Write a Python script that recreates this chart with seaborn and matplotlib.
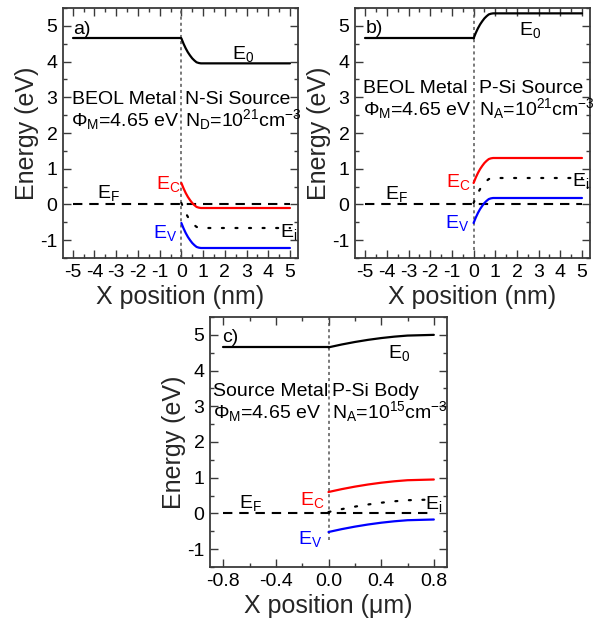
import matplotlib
matplotlib.use("Agg")
import matplotlib.pyplot as plt
from matplotlib.ticker import MultipleLocator
import seaborn as sns

# ---- band-diagram values (eV) ----
phi_m = 4.65                      # metal work function / vacuum level on metal side
x_metal_nm = [-5.0, 0.0]
x_metal_um = [-0.8, 0.0]
x_fermi_nm = [-5.0, 5.0]
x_fermi_um = [-0.8, 0.8]

# panels a) and b): heavily doped source, x in nm
x_sc_nm = [0.0, 0.1, 0.2, 0.3, 0.4, 0.5, 0.6, 0.7, 0.8, 0.9, 5.0]

E0_a = [4.65, 4.50, 4.37, 4.26, 4.17, 4.09, 4.03, 3.98, 3.96, 3.95, 3.95]
Ec_a = [0.60, 0.45, 0.32, 0.21, 0.12, 0.04, -0.02, -0.07, -0.09, -0.10, -0.10]
Ev_a = [-0.52, -0.67, -0.80, -0.91, -1.00, -1.08, -1.14, -1.19, -1.21, -1.22, -1.22]
Ei_a = [0.04, -0.11, -0.24, -0.35, -0.44, -0.52, -0.58, -0.63, -0.65, -0.66, -0.66]

E0_b = [4.65, 4.80, 4.93, 5.04, 5.13, 5.21, 5.27, 5.32, 5.34, 5.35, 5.35]
Ec_b = [0.60, 0.75, 0.88, 0.99, 1.08, 1.16, 1.22, 1.27, 1.29, 1.30, 1.30]
Ev_b = [-0.52, -0.37, -0.24, -0.13, -0.04, 0.04, 0.10, 0.15, 0.17, 0.18, 0.18]
Ei_b = [0.04, 0.19, 0.32, 0.43, 0.52, 0.60, 0.66, 0.71, 0.73, 0.74, 0.74]

# panel c): lightly doped body, x in um
x_sc_um = [0.0, 0.1, 0.2, 0.3, 0.4, 0.5, 0.6, 0.7, 0.8]
E0_c = [4.65, 4.73, 4.80, 4.86, 4.91, 4.95, 4.98, 4.99, 5.00]
Ec_c = [0.60, 0.68, 0.75, 0.81, 0.86, 0.90, 0.93, 0.94, 0.95]
Ev_c = [-0.52, -0.44, -0.37, -0.31, -0.26, -0.22, -0.19, -0.18, -0.17]
Ei_c = [0.04, 0.12, 0.19, 0.25, 0.30, 0.34, 0.37, 0.38, 0.39]

sns.set_theme(style="ticks")
plt.rcParams["font.family"] = ["Liberation Sans", "DejaVu Sans"]
plt.rcParams["mathtext.fontset"] = "custom"
plt.rcParams["mathtext.rm"] = "Liberation Sans"
plt.rcParams["mathtext.it"] = "Liberation Sans:italic"
plt.rcParams["axes.unicode_minus"] = False

SPINE = "#3a3a3a"
FS = 14

fig = plt.figure(figsize=(6.01, 6.26), dpi=100)
W, H = 601.0, 626.0
ax_a = fig.add_axes([63 / W, 1 - 258 / H, 235 / W, 250 / H])
ax_b = fig.add_axes([355 / W, 1 - 258 / H, 235 / W, 250 / H])
ax_c = fig.add_axes([210 / W, 1 - 567 / H, 237 / W, 250 / H])


def style_axes(ax, xlim, xmajor, xminor, xlabel):
    ax.set_xlim(*xlim)
    ax.set_ylim(-1.5, 5.5)
    ax.xaxis.set_major_locator(MultipleLocator(xmajor))
    ax.xaxis.set_minor_locator(MultipleLocator(xminor))
    ax.yaxis.set_major_locator(MultipleLocator(1))
    ax.yaxis.set_minor_locator(MultipleLocator(0.5))
    ax.tick_params(which="both", direction="in", top=True, right=True,
                   color=SPINE, width=1.0, labelsize=FS, labelcolor="black", pad=4)
    ax.tick_params(which="major", length=5.5)
    ax.tick_params(which="minor", length=3)
    for s in ax.spines.values():
        s.set_color(SPINE)
        s.set_linewidth(1.3)
    ax.set_xlabel(xlabel, fontsize=18, labelpad=3)
    ax.set_ylabel("Energy (eV)", fontsize=18, labelpad=1)


def draw_bands(ax, xm, xf, xs, e0, ec, ev, ei, vline_bottom):
    ax.vlines(0, vline_bottom, 5.5, colors="#555555", linewidth=1.1,
              linestyles=(0, (2.0, 2.0)), zorder=1)
    sns.lineplot(x=xf, y=[0.0, 0.0], ax=ax, color="black", linewidth=1.5,
                 linestyle=(0, (4.5, 3.3)), estimator=None, zorder=2)
    sns.lineplot(x=xm, y=[phi_m, phi_m], ax=ax, color="black", linewidth=1.6,
                 estimator=None, zorder=3)
    sns.lineplot(x=xs, y=e0, ax=ax, color="black", linewidth=1.6,
                 estimator=None, zorder=3)
    sns.lineplot(x=xs, y=ec, ax=ax, color="#ff0000", linewidth=1.6,
                 estimator=None, zorder=3)
    sns.lineplot(x=xs, y=ev, ax=ax, color="#0000ff", linewidth=1.6,
                 estimator=None, zorder=3)
    sns.lineplot(x=xs, y=ei, ax=ax, color="black", linewidth=1.6,
                 linestyle=(0, (0.9, 5.2)), dash_capstyle="round",
                 estimator=None, zorder=3)


def label(ax, x, y, s, color="black", ha="left", clip=False):
    ax.text(x, y, s, fontsize=FS, color=color, ha=ha, va="baseline",
            clip_on=clip, zorder=4)


R = r"\mathregular"

# ---------- a) ----------
draw_bands(ax_a, x_metal_nm, x_fermi_nm, x_sc_nm, E0_a, Ec_a, Ev_a, Ei_a, -1.5)
style_axes(ax_a, (-5.45, 5.37), 1, 0.5, "X position (nm)")
label(ax_a, -5.0, 4.77, "a)")
label(ax_a, 2.33, 4.07, "E$_{" + R + "{0}}$")
label(ax_a, -5.05, 2.80, "BEOL Metal")
label(ax_a, -5.1, 2.20, "Φ$_{" + R + "{M}}$=4.65 eV")
label(ax_a, 0.17, 2.80, "N-Si Source")
label(ax_a, 0.17, 2.20, "N$_{" + R + "{D}}$=10$^{" + R + "{21}}$cm$^{" + R + "{-3}}$")
label(ax_a, -3.9, 0.18, "E$_{" + R + "{F}}$")
label(ax_a, -0.05, 0.43, "E$_{" + R + "{C}}$", color="#ff0000", ha="right")
label(ax_a, -0.2, -0.95, "E$_{" + R + "{V}}$", color="#0000ff", ha="right")
label(ax_a, 4.55, -0.90, "E$_{" + R + "{i}}$", clip=True)

# ---------- b) ----------
draw_bands(ax_b, x_metal_nm, x_fermi_nm, x_sc_nm, E0_b, Ec_b, Ev_b, Ei_b, -1.28)
style_axes(ax_b, (-5.47, 5.37), 1, 0.5, "X position (nm)")
label(ax_b, -5.0, 4.80, "b)")
label(ax_b, 2.1, 4.73, "E$_{" + R + "{0}}$")
label(ax_b, -5.1, 3.11, "BEOL Metal")
label(ax_b, -5.1, 2.51, "Φ$_{" + R + "{M}}$=4.65 eV")
label(ax_b, 0.27, 3.11, "P-Si Source")
label(ax_b, 0.27, 2.51, "N$_{" + R + "{A}}$=10$^{" + R + "{21}}$cm$^{" + R + "{-3}}$")
label(ax_b, -4.1, 0.16, "E$_{" + R + "{F}}$")
label(ax_b, -0.12, 0.50, "E$_{" + R + "{C}}$", color="#ff0000", ha="right")
label(ax_b, -0.2, -0.67, "E$_{" + R + "{V}}$", color="#0000ff", ha="right")
label(ax_b, 4.55, 0.51, "E$_{" + R + "{i}}$", clip=True)

# ---------- c) ----------
draw_bands(ax_c, x_metal_um, x_fermi_um, x_sc_um, E0_c, Ec_c, Ev_c, Ei_c, -0.75)
style_axes(ax_c, (-0.9, 0.9), 0.4, 0.2, "X position (μm)")
label(ax_c, -0.81, 4.81, "c)")
label(ax_c, 0.45, 4.35, "E$_{" + R + "{0}}$")
label(ax_c, -0.88, 3.28, "Source Metal")
label(ax_c, -0.88, 2.67, "Φ$_{" + R + "{M}}$=4.65 eV")
label(ax_c, 0.03, 3.28, "P-Si Body")
label(ax_c, 0.03, 2.67, "N$_{" + R + "{A}}$=10$^{" + R + "{15}}$cm$^{" + R + "{-3}}$")
label(ax_c, -0.68, 0.14, "E$_{" + R + "{F}}$")
label(ax_c, -0.03, 0.23, "E$_{" + R + "{C}}$", color="#ff0000", ha="right")
label(ax_c, -0.05, -0.85, "E$_{" + R + "{V}}$", color="#0000ff", ha="right")
label(ax_c, 0.73, 0.13, "E$_{" + R + "{i}}$", clip=True)

for ax in (ax_a, ax_b, ax_c):
    leg = ax.get_legend()
    if leg is not None:
        leg.remove()

fig.savefig("out.png", dpi=100)
